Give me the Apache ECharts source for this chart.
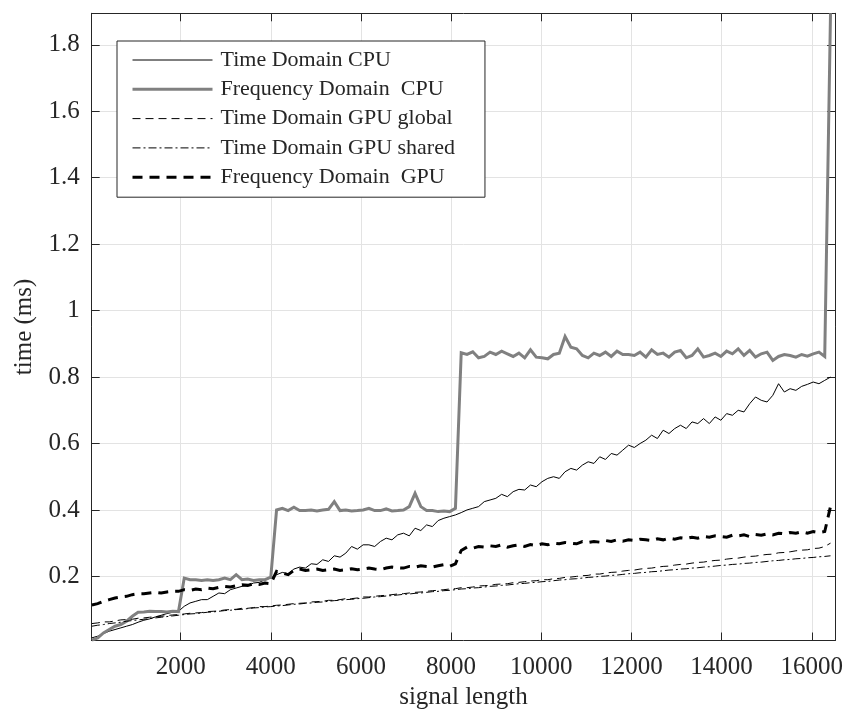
<!DOCTYPE html>
<html>
<head>
<meta charset="utf-8">
<script src="https://cdn.jsdelivr.net/npm/echarts@6/dist/echarts.min.js"></script>
<style>
  html, body { margin: 0; padding: 0; background: #fff; }
  #chart { width: 846px; height: 717px; }
</style>
</head>
<body>
<div id="chart"></div>
<script>
// Signal lengths sampled every 128 samples, starting at 32
const signalLength = Array.from({ length: 129 }, (_, i) => 32 + 128 * i);

const seriesNames = [
  'Time Domain CPU',
  'Frequency Domain  CPU',
  'Time Domain GPU global',
  'Time Domain GPU shared',
  'Frequency Domain  GPU'
];

// Execution time in ms for each signal length
const timeDomainCpu = [
  0.015, 0.02, 0.028, 0.035, 0.04, 0.045, 0.05, 0.055, 0.062, 0.068, 0.072, 0.078, 0.083, 0.088, 0.092, 0.095,
  0.11, 0.12, 0.125, 0.13, 0.13, 0.14, 0.15, 0.148, 0.16, 0.165, 0.17, 0.172, 0.18, 0.182, 0.19, 0.195,
  0.205, 0.212, 0.208, 0.222, 0.228, 0.225, 0.238, 0.236, 0.25, 0.245, 0.262, 0.258, 0.27, 0.29, 0.282, 0.295,
  0.295, 0.29, 0.305, 0.315, 0.31, 0.325, 0.33, 0.322, 0.345, 0.338, 0.355, 0.35, 0.368, 0.375, 0.38, 0.385,
  0.392, 0.4, 0.405, 0.41, 0.425, 0.43, 0.435, 0.447, 0.44, 0.455, 0.462, 0.46, 0.475, 0.47, 0.485, 0.495,
  0.5, 0.495, 0.515, 0.525, 0.52, 0.535, 0.545, 0.54, 0.56, 0.552, 0.57, 0.565, 0.58, 0.595, 0.588, 0.6,
  0.61, 0.625, 0.615, 0.64, 0.63, 0.645, 0.655, 0.645, 0.665, 0.66, 0.675, 0.66, 0.68, 0.67, 0.69, 0.685,
  0.7, 0.695, 0.72, 0.74, 0.73, 0.725, 0.745, 0.78, 0.755, 0.765, 0.76, 0.772, 0.778, 0.785, 0.78, 0.79, 0.80
];

const freqDomainCpu = [
  0.008, 0.015, 0.03, 0.04, 0.05, 0.055, 0.065, 0.08, 0.092, 0.093, 0.095, 0.094, 0.094, 0.093, 0.095, 0.094,
  0.195, 0.19, 0.19, 0.188, 0.19, 0.188, 0.19, 0.195, 0.19, 0.205, 0.19, 0.192, 0.188, 0.19, 0.19, 0.198,
  0.40, 0.405, 0.398, 0.408, 0.398, 0.398, 0.4, 0.397, 0.4, 0.402, 0.425, 0.398, 0.4, 0.397, 0.398, 0.4,
  0.405, 0.398, 0.398, 0.403, 0.397, 0.398, 0.4, 0.41, 0.45, 0.41, 0.398, 0.398, 0.395, 0.397, 0.395, 0.405,
  0.873, 0.868, 0.876, 0.858, 0.862, 0.875, 0.868, 0.878, 0.87, 0.862, 0.872, 0.858, 0.882, 0.86, 0.858, 0.855,
  0.868, 0.872, 0.922, 0.89, 0.885, 0.865, 0.858, 0.872, 0.865, 0.875, 0.862, 0.878, 0.868, 0.868, 0.865, 0.875,
  0.86, 0.882, 0.868, 0.872, 0.86, 0.875, 0.88, 0.858, 0.865, 0.885, 0.86, 0.865, 0.872, 0.862, 0.878, 0.87,
  0.885, 0.865, 0.88, 0.86, 0.87, 0.875, 0.85, 0.862, 0.868, 0.865, 0.86, 0.868, 0.863, 0.87, 0.875, 0.862, 1.895
];

const timeDomainGpuGlobal = [
  0.058, 0.06, 0.063, 0.063, 0.066, 0.069, 0.07, 0.071, 0.074, 0.075, 0.077, 0.079, 0.08, 0.082, 0.084, 0.085,
  0.087, 0.089, 0.09, 0.091, 0.094, 0.095, 0.096, 0.099, 0.1, 0.101, 0.104, 0.104, 0.106, 0.109, 0.109, 0.111,
  0.113, 0.114, 0.116, 0.118, 0.119, 0.12, 0.123, 0.124, 0.125, 0.128, 0.128, 0.13, 0.133, 0.133, 0.135, 0.138,
  0.138, 0.14, 0.142, 0.143, 0.145, 0.147, 0.148, 0.15, 0.152, 0.153, 0.155, 0.157, 0.158, 0.16, 0.162, 0.163,
  0.166, 0.166, 0.168, 0.171, 0.172, 0.173, 0.176, 0.177, 0.178, 0.181, 0.182, 0.184, 0.186, 0.187, 0.19, 0.19,
  0.193, 0.194, 0.197, 0.198, 0.2, 0.202, 0.203, 0.207, 0.207, 0.21, 0.212, 0.213, 0.216, 0.218, 0.219, 0.222,
  0.224, 0.225, 0.228, 0.23, 0.231, 0.234, 0.236, 0.237, 0.24, 0.242, 0.243, 0.246, 0.248, 0.249, 0.252, 0.254,
  0.255, 0.258, 0.26, 0.261, 0.264, 0.266, 0.267, 0.271, 0.272, 0.274, 0.277, 0.279, 0.28, 0.284, 0.285, 0.29, 0.3
];

const timeDomainGpuShared = [
  0.05, 0.053, 0.055, 0.058, 0.06, 0.062, 0.065, 0.067, 0.069, 0.071, 0.073, 0.075, 0.077, 0.079, 0.081, 0.083,
  0.085, 0.087, 0.088, 0.09, 0.092, 0.093, 0.095, 0.097, 0.098, 0.1, 0.101, 0.103, 0.105, 0.106, 0.108, 0.109,
  0.111, 0.112, 0.114, 0.116, 0.117, 0.119, 0.12, 0.122, 0.123, 0.125, 0.127, 0.128, 0.13, 0.131, 0.133, 0.134,
  0.136, 0.138, 0.139, 0.141, 0.142, 0.144, 0.146, 0.147, 0.149, 0.15, 0.152, 0.154, 0.155, 0.157, 0.158, 0.16,
  0.162, 0.163, 0.165, 0.166, 0.168, 0.17, 0.171, 0.173, 0.174, 0.176, 0.178, 0.179, 0.181, 0.182, 0.184, 0.185,
  0.187, 0.189, 0.19, 0.192, 0.193, 0.195, 0.197, 0.198, 0.2, 0.201, 0.203, 0.204, 0.206, 0.208, 0.209, 0.211,
  0.212, 0.214, 0.215, 0.217, 0.219, 0.22, 0.222, 0.223, 0.225, 0.226, 0.228, 0.229, 0.231, 0.233, 0.234, 0.236,
  0.237, 0.239, 0.24, 0.242, 0.243, 0.245, 0.247, 0.248, 0.25, 0.251, 0.253, 0.254, 0.256, 0.257, 0.259, 0.26, 0.262
];

const freqDomainGpu = [
  0.114, 0.118, 0.125, 0.13, 0.135, 0.138, 0.14, 0.145, 0.148, 0.148, 0.15, 0.152, 0.15, 0.153, 0.155, 0.155,
  0.16, 0.158, 0.162, 0.16, 0.165, 0.163, 0.167, 0.17, 0.168, 0.172, 0.175, 0.173, 0.178, 0.176, 0.18, 0.178,
  0.215, 0.21, 0.205, 0.218, 0.222, 0.218, 0.22, 0.222, 0.218, 0.22, 0.222, 0.218, 0.22, 0.223, 0.22, 0.222,
  0.225, 0.222, 0.22, 0.225, 0.228, 0.226, 0.225, 0.23, 0.228, 0.232, 0.23, 0.228, 0.232, 0.235, 0.23, 0.238,
  0.278, 0.288, 0.285, 0.29, 0.288, 0.292, 0.29, 0.295, 0.288, 0.292, 0.295, 0.29, 0.296, 0.293, 0.298, 0.295,
  0.3, 0.298, 0.302, 0.3, 0.298, 0.305, 0.302, 0.305, 0.303, 0.308, 0.305, 0.31, 0.306, 0.31, 0.308, 0.312,
  0.31, 0.308, 0.313, 0.31, 0.315, 0.312, 0.316, 0.314, 0.318, 0.315, 0.32, 0.318, 0.322, 0.32, 0.318, 0.324,
  0.322, 0.325, 0.32, 0.326, 0.324, 0.328, 0.325, 0.33, 0.328, 0.332, 0.33, 0.334, 0.33, 0.335, 0.332, 0.335, 0.41
];

const xRange = [27, 16519];
const yRange = [0.007, 1.895];

const FONT = '"Liberation Serif", "Times New Roman", serif';
const INK = '#262626';

function pairs(values) {
  return signalLength.map((x, i) => [x, values[i]]);
}

function lineSeries(name, values, color, width, dash) {
  return {
    name: name,
    type: 'line',
    data: pairs(values),
    showSymbol: false,
    symbol: 'none',
    smooth: false,
    animation: false,
    clip: true,
    itemStyle: { color: color },
    lineStyle: { color: color, width: width, type: dash || 'solid', cap: 'butt', join: 'miter' },
    emphasis: { disabled: true }
  };
}

function frameAxis(position, isX, primary) {
  const axis = {
    type: 'value',
    position: position,
    min: isX ? xRange[0] : yRange[0],
    max: isX ? xRange[1] : yRange[1],
    splitNumber: isX ? 8 : 9,
    axisLine: { show: true, onZero: false, lineStyle: { color: INK, width: 1 } },
    axisTick: { show: true, inside: true, length: 8, lineStyle: { color: INK, width: 1 } },
    axisLabel: {
      show: primary,
      showMinLabel: false,
      showMaxLabel: false,
      color: INK,
      fontFamily: FONT,
      fontSize: 25,
      margin: isX ? 14 : 12,
      formatter: (v) => String(Math.round(v * 100) / 100)
    },
    splitLine: { show: primary, lineStyle: { color: '#e3e3e3', width: 1 } }
  };
  if (primary) {
    axis.name = isX ? 'signal length' : 'time (ms)';
    axis.nameLocation = 'middle';
    axis.nameGap = isX ? 44 : 55;
    axis.nameTextStyle = { color: INK, fontFamily: FONT, fontSize: 25 };
  }
  return axis;
}

const chart = echarts.init(document.getElementById('chart'), null, { renderer: 'canvas' });

chart.setOption({
  backgroundColor: '#ffffff',
  animation: false,
  grid: { left: 91.7, right: 10.3, top: 13.3, bottom: 76.5, containLabel: false },
  xAxis: [frameAxis('bottom', true, true), frameAxis('top', true, false)],
  yAxis: [frameAxis('left', false, true), frameAxis('right', false, false)],
  legend: {
    orient: 'vertical',
    left: 117,
    top: 41,
    padding: [8, 30, 9, 14],
    itemGap: 7.3,
    itemWidth: 80,
    itemHeight: 14,
    backgroundColor: '#ffffff',
    borderColor: INK,
    borderWidth: 1,
    borderRadius: 0,
    selectedMode: false,
    itemStyle: { opacity: 0 },
    lineStyle: { width: 'inherit', type: 'inherit', color: 'inherit' },
    textStyle: { color: INK, fontFamily: FONT, fontSize: 22, lineHeight: 22, padding: [0, 0, 0, 3] },
    data: seriesNames
  },
  series: [
    lineSeries(seriesNames[0], timeDomainCpu, '#000000', 1),
    lineSeries(seriesNames[1], freqDomainCpu, '#808080', 3),
    lineSeries(seriesNames[2], timeDomainGpuGlobal, '#000000', 1, [8, 5]),
    lineSeries(seriesNames[3], timeDomainGpuShared, '#000000', 1, [8, 3, 2, 3]),
    lineSeries(seriesNames[4], freqDomainGpu, '#000000', 3, [10, 7])
  ]
});
</script>
</body>
</html>
